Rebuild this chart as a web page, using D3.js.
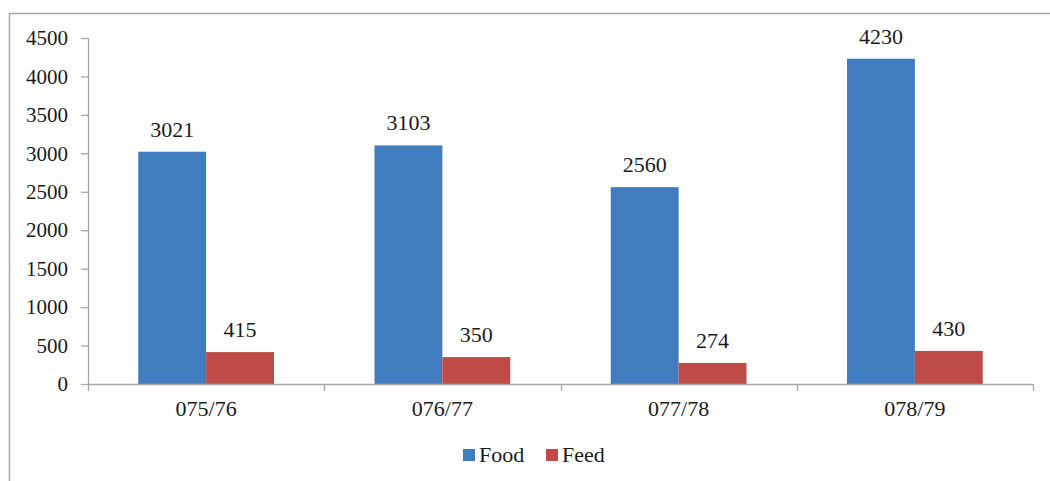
<!DOCTYPE html>
<html>
<head>
<meta charset="utf-8">
<script src="https://cdn.jsdelivr.net/npm/d3@7"></script>
<style>
  body { margin: 0; background: #fff; }
  svg text { font-family: "Liberation Serif", "Times New Roman", serif; fill: #1a1a1a; }
</style>
</head>
<body>
<div id="chart"></div>
<script>
// data
var years = ["075/76", "076/77", "077/78", "078/79"]
var food = [3021, 3103, 2560, 4230]
var feed = [415, 350, 274, 430]
var seriesNames = ["Food", "Feed"]
var yTicks = [0, 500, 1000, 1500, 2000, 2500, 3000, 3500, 4000, 4500]

var colors = { Food: "#417CBE", Feed: "#BF4B48" }

var width = 1050, height = 481
var margin = { top: 38, right: 17, bottom: 97, left: 88 }

var svg = d3.select("#chart").append("svg")
  .attr("width", width)
  .attr("height", height)

// outer frame (cropped on right and bottom in the source)
svg.append("path")
  .attr("d", "M9.5," + height + "V13.5H" + width)
  .attr("fill", "none")
  .attr("stroke", "#a6a6a6")
  .attr("stroke-width", 1.5)

var x = d3.scaleBand()
  .domain(years)
  .range([margin.left, width - margin.right])

var x1 = d3.scaleBand()
  .domain(seriesNames)
  .range([0, x.bandwidth()])
  .paddingOuter(0.74)

var y = d3.scaleLinear()
  .domain([0, 4500])
  .range([height - margin.bottom, margin.top])

var rows = years.map((yr, i) => ({ year: yr, Food: food[i], Feed: feed[i] }))

// y axis
var yAxis = svg.append("g")
  .attr("transform", "translate(" + margin.left + ",0)")
  .call(d3.axisLeft(y).tickValues(yTicks).tickSize(7).tickPadding(13).tickFormat(d3.format("d")))
yAxis.select(".domain").attr("stroke", "#a6a6a6").attr("stroke-width", 1.3).attr("d", "M0.5," + y(4500) + "V" + y(0))
yAxis.selectAll(".tick line").attr("stroke", "#a6a6a6").attr("stroke-width", 1.3)
yAxis.selectAll(".tick text").style("font-size", "21px")

// bars
var groups = svg.append("g").selectAll("g")
  .data(rows)
  .join("g")
  .attr("transform", d => "translate(" + x(d.year) + ",0)")

groups.selectAll("rect")
  .data(d => seriesNames.map(k => ({ key: k, value: d[k] })))
  .join("rect")
  .attr("x", d => x1(d.key))
  .attr("width", x1.bandwidth())
  .attr("y", d => y(d.value))
  .attr("height", d => y(0) - y(d.value))
  .attr("fill", d => colors[d.key])

groups.selectAll("text.val")
  .data(d => seriesNames.map(k => ({ key: k, value: d[k] })))
  .join("text")
  .attr("class", "val")
  .attr("x", d => x1(d.key) + x1.bandwidth() / 2)
  .attr("y", d => y(d.value) - 15)
  .attr("text-anchor", "middle")
  .style("font-size", "22px")
  .text(d => d.value)

// x axis
var xAxis = svg.append("g")
  .attr("transform", "translate(0," + y(0) + ")")
  .call(d3.axisBottom(x).tickSize(0).tickPadding(16))
xAxis.select(".domain").attr("stroke", "#a6a6a6").attr("stroke-width", 1.3)
  .attr("d", "M" + margin.left + ",0.5H" + (width - margin.right))
xAxis.selectAll(".tick text").style("font-size", "22px")

// category boundary ticks
var bounds = years.map(d => x(d)).concat([x.range()[1]])
xAxis.selectAll("line.bound")
  .data(bounds)
  .join("line")
  .attr("class", "bound")
  .attr("x1", d => Math.round(d) + 0.5)
  .attr("x2", d => Math.round(d) + 0.5)
  .attr("y1", 0)
  .attr("y2", 7)
  .attr("stroke", "#a6a6a6")
  .attr("stroke-width", 1.3)

// legend
var legend = svg.append("g").attr("transform", "translate(463,449)")
var items = legend.selectAll("g")
  .data(seriesNames)
  .join("g")
  .attr("transform", (d, i) => "translate(" + (i * 83) + ",0)")
items.append("rect")
  .attr("width", 12).attr("height", 12)
  .attr("fill", d => colors[d])
items.append("text")
  .attr("x", 16).attr("y", 13)
  .style("font-size", "22px")
  .text(d => d)
</script>
</body>
</html>
